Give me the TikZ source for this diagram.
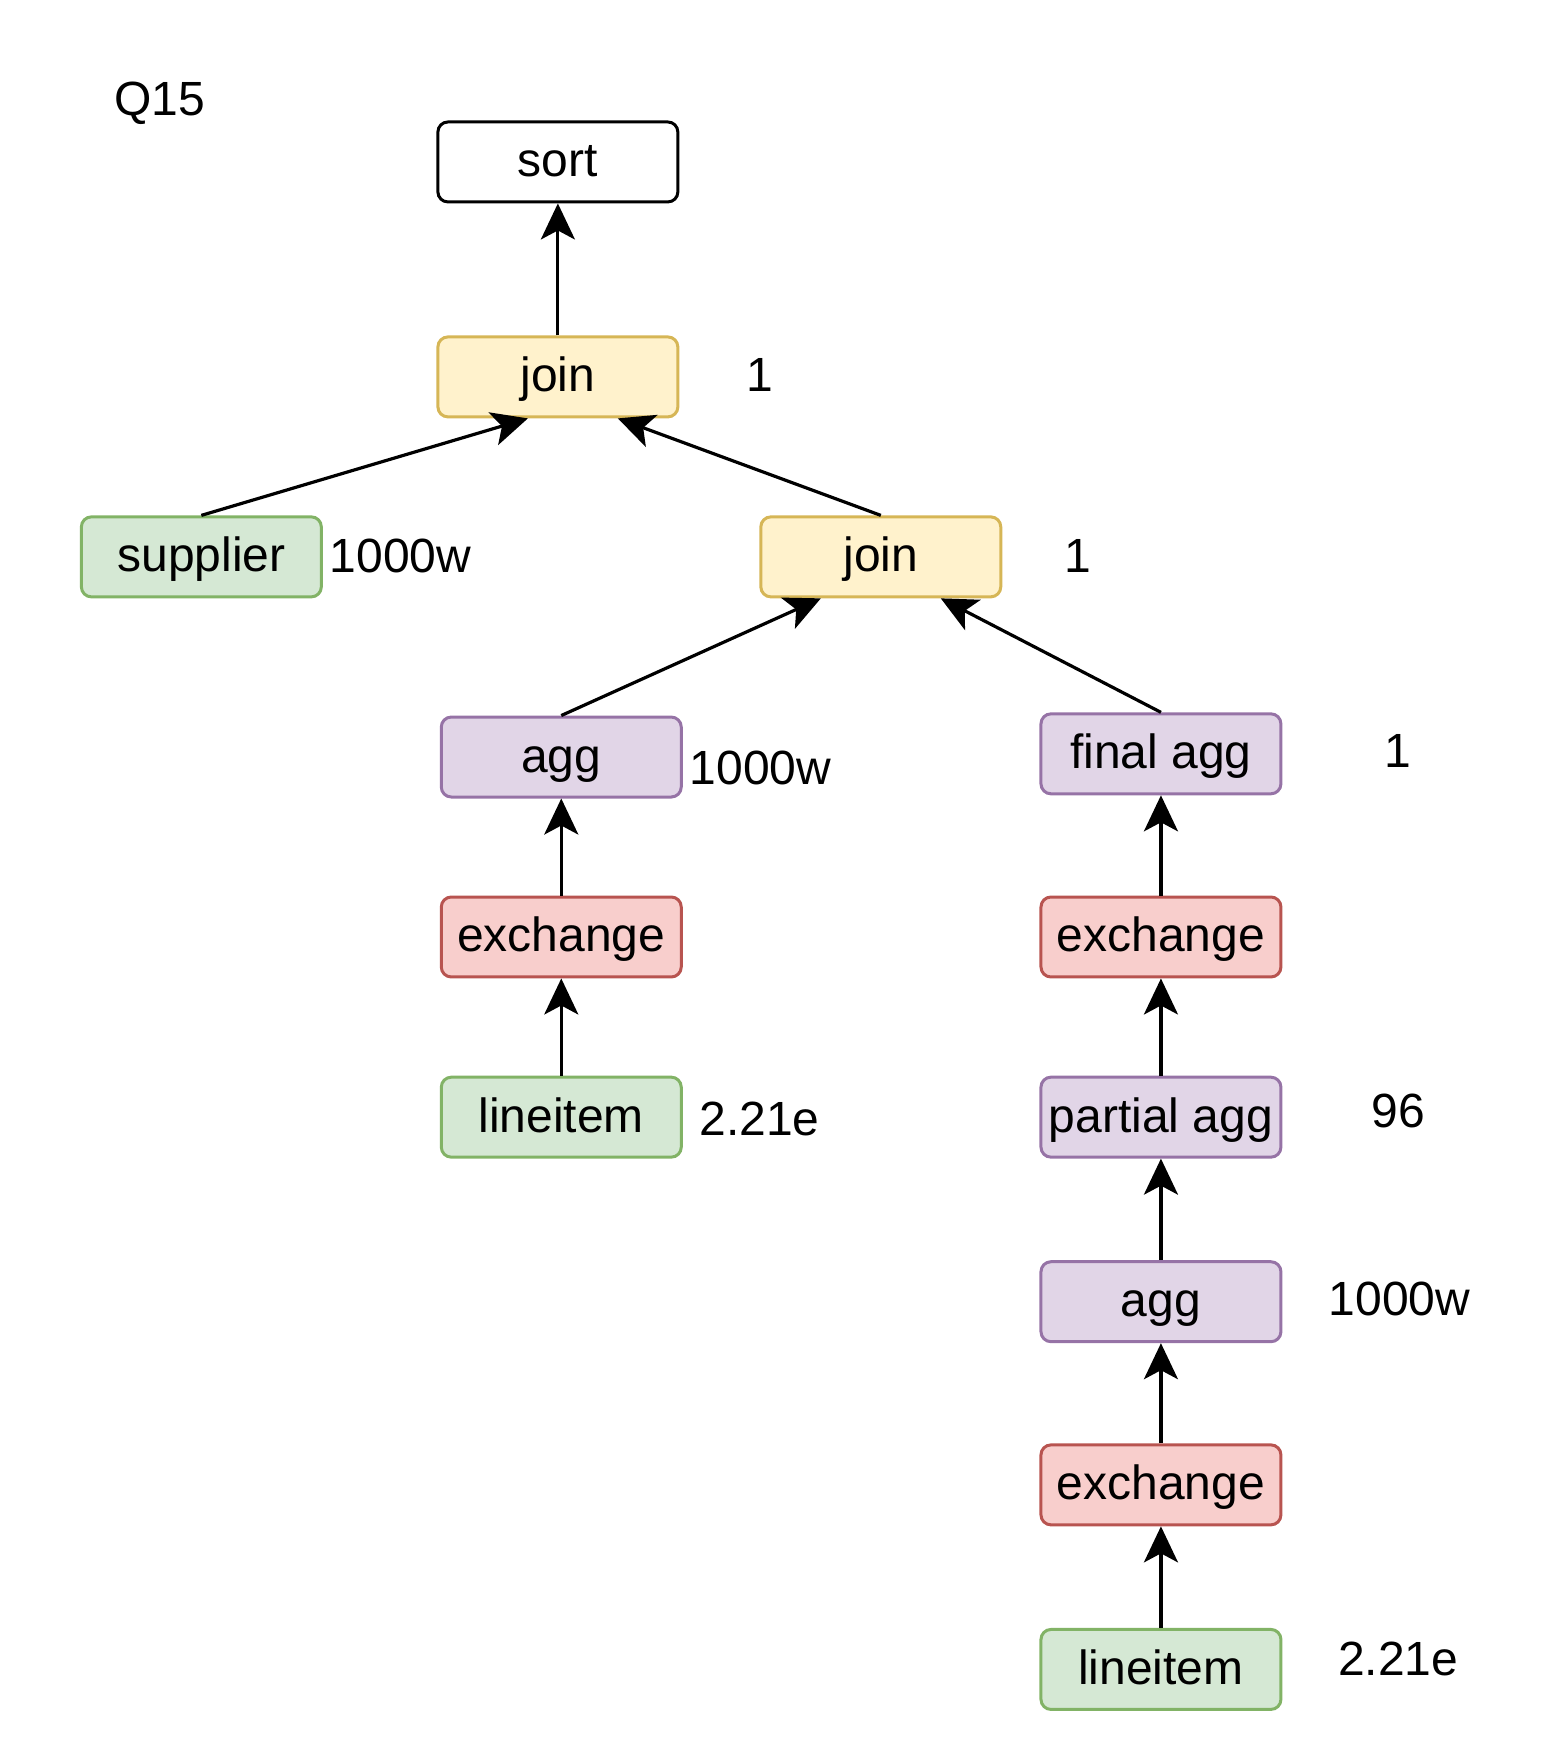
\documentclass[tikz,border=0pt]{standalone}
\usepackage{fontspec}
\setmainfont{Liberation Sans}
\usetikzlibrary{arrows.meta}
\definecolor{scanfill}{HTML}{D5E8D4}
\definecolor{scanline}{HTML}{82B366}
\definecolor{joinfill}{HTML}{FFF2CC}
\definecolor{joinline}{HTML}{D6B656}
\definecolor{aggfill}{HTML}{E1D5E7}
\definecolor{aggline}{HTML}{9673A6}
\definecolor{xchgfill}{HTML}{F8CECC}
\definecolor{xchgline}{HTML}{B85450}

\begin{document}
\begin{tikzpicture}[x=1pt,y=-1pt,>={Stealth[length=18pt,width=17pt,inset=4.5pt]},
   font=\fontsize{24}{28}\selectfont,
   op/.style={draw,rounded corners=5pt,line width=1.5pt,minimum width=120pt,minimum height=40pt,
              inner sep=0pt,text height=19pt,text depth=4pt,fill=white},
   scan/.style={op,draw=scanline,fill=scanfill},
   joinop/.style={op,draw=joinline,fill=joinfill},
   aggop/.style={op,draw=aggline,fill=aggfill},
   xchg/.style={op,draw=xchgline,fill=xchgfill},
   rows/.style={inner sep=0pt},
   flow/.style={->,line width=1.6pt}]
  \useasboundingbox (0,0) rectangle (782,882.2);
  \node[rows] (title) at (79.9,51.5) {Q15};
  % plan tree
  \node[op] (sort) at (279,81) {sort};
  \node[joinop] (join1) at (279,188.5) {join};
  \node[scan] (supplier) at (100.7,278.5) {supplier};
  \node[joinop] (join2) at (440.5,278.5) {join};
  \node[aggop] (aggL) at (280.7,378.6) {agg};
  \node[xchg] (xchgL) at (280.7,468.6) {exchange};
  \node[scan] (lineL) at (280.7,558.7) {lineitem};
  \node[aggop] (finalagg) at (580.6,377) {final agg};
  \node[xchg] (xchgR) at (580.6,468.6) {exchange};
  \node[aggop] (partagg) at (580.6,558.7) {partial agg};
  \node[aggop] (aggR) at (580.6,651) {agg};
  \node[xchg] (xchgR2) at (580.6,742.6) {exchange};
  \node[scan] (lineR) at (580.6,834.9) {lineitem};
  % row counts
  \node[rows] (rJoin1) at (379.8,187.3) {1};
  \node[rows] (rSupp) at (200.3,277.9) {1000w};
  \node[rows] (rJoin2) at (539,278) {1};
  \node[rows] (rAggL) at (380.3,384.3) {1000w};
  \node[rows] (rLineL) at (379.8,559.8) {2.21e};
  \node[rows] (rFinal) at (699.3,375.8) {1};
  \node[rows] (rPart) at (699.3,555.8) {96};
  \node[rows] (rAggR) at (699.9,649.8) {1000w};
  \node[rows] (rLineR) at (699.3,829.8) {2.21e};
  % edges
  \draw[flow] (join1) -- (sort);
  \draw[flow] (supplier.north) -- ([xshift=-15pt]join1.south);
  \draw[flow] (join2.north) -- ([xshift=30pt]join1.south);
  \draw[flow] (aggL.north) -- ([xshift=-30pt]join2.south);
  \draw[flow] (finalagg.north) -- ([xshift=30pt]join2.south);
  \draw[flow] (xchgL) -- (aggL);
  \draw[flow] (lineL) -- (xchgL);
  \draw[flow] (xchgR) -- (finalagg);
  \draw[flow] (partagg) -- (xchgR);
  \draw[flow] (aggR) -- (partagg);
  \draw[flow] (xchgR2) -- (aggR);
  \draw[flow] (lineR) -- (xchgR2);
\end{tikzpicture}
\end{document}
